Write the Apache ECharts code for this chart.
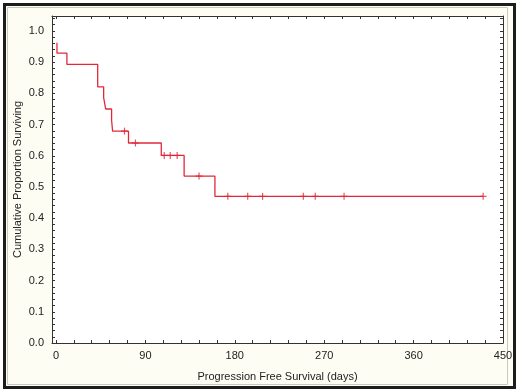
<!DOCTYPE html>
<html>
<head>
<meta charset="utf-8">
<script src="https://cdn.jsdelivr.net/npm/echarts@6/dist/echarts.min.js"></script>
<style>
  html, body { margin: 0; padding: 0; }
  #chart { width: 520px; height: 392px; }
</style>
</head>
<body>
<div id="chart"></div>
<script>
// Kaplan-Meier steps: time (days) and survival after that time
var stepDays = [1, 1, 11, 42, 48, 50, 56, 57, 73, 106, 129, 160, 430];
var stepSurv = [0.962, 0.929, 0.893, 0.821, 0.786, 0.750, 0.714, 0.679, 0.641, 0.601, 0.535, 0.470, 0.470];

// censored observations
var censorDays = [69, 80, 109, 115, 122, 144, 173, 193, 208, 249, 261, 290, 430];
var censorSurv = [0.679, 0.641, 0.601, 0.601, 0.601, 0.535, 0.470, 0.470, 0.470, 0.470, 0.470, 0.470, 0.470];

var xLabels = [0, 90, 180, 270, 360, 450];
var yLabels = [0, 0.1, 0.2, 0.3, 0.4, 0.5, 0.6, 0.7, 0.8, 0.9, 1.0];

var xTicks = [];
for (var i = 0; i <= 25; i++) xTicks.push(i * 18);
var yTicks = [];
for (var j = 0; j <= 52; j++) yTicks.push(+(j * 0.02).toFixed(2));

var red = '#e0283a';
var axisCol = '#333';
var font = 'Liberation Sans';

var stepData = stepDays.map(function (d, k) { return [d, stepSurv[k]]; });
var censorData = censorDays.map(function (d, k) { return [d, censorSurv[k]]; });

function baseX(pos, showLabel) {
    return {
        type: 'value',
        position: pos,
        min: -4,
        max: 450,
        axisLine: { show: true, onZero: false, lineStyle: { color: axisCol, width: 1 } },
        axisTick: { show: true, inside: true, length: 3, customValues: xTicks, lineStyle: { color: axisCol } },
        axisLabel: {
            show: showLabel, customValues: xLabels, margin: 7,
            color: '#222', fontFamily: font, fontSize: 11
        },
        splitLine: { show: false }
    };
}

function baseY(pos, showLabel) {
    return {
        type: 'value',
        position: pos,
        min: 0,
        max: 1.048,
        axisLine: { show: true, onZero: false, lineStyle: { color: axisCol, width: 1 } },
        axisTick: { show: true, inside: true, length: 3, customValues: yTicks, lineStyle: { color: axisCol } },
        axisLabel: {
            show: showLabel, customValues: yLabels, margin: 8,
            color: '#222', fontFamily: font, fontSize: 11,
            formatter: function (v) { return v.toFixed(1); }
        },
        splitLine: { show: false }
    };
}

var chart = echarts.init(document.getElementById('chart'));

var xBottom = baseX('bottom', true);
xBottom.name = 'Progression Free Survival (days)';
xBottom.nameLocation = 'middle';
xBottom.nameGap = 28;
xBottom.nameTextStyle = { color: '#222', fontFamily: font, fontSize: 11 };

var yLeft = baseY('left', true);
yLeft.name = 'Cumulative Proportion Surviving';
yLeft.nameLocation = 'middle';
yLeft.nameGap = 29;
yLeft.nameMoveOverlap = false;
yLeft.nameTextStyle = { color: '#222', fontFamily: font, fontSize: 11 };

var option = {
    backgroundColor: '#fdfdf4',
    animation: false,
    grid: {
        left: 52, top: 16, width: 451, height: 327,
        outerBoundsMode: 'none',
        show: true, backgroundColor: '#ffffff', borderWidth: 0
    },
    xAxis: [xBottom, baseX('top', false)],
    yAxis: [yLeft, baseY('right', false)],
    graphic: [
        { type: 'rect', shape: { x: 1.5, y: 1.5, width: 517, height: 389 },
          style: { fill: 'none', stroke: '#ffffff', lineWidth: 3 } },
        { type: 'rect', shape: { x: 4.5, y: 4.5, width: 510, height: 383 },
          style: { fill: 'none', stroke: '#1c1c1c', lineWidth: 3 } },
        { type: 'rect', shape: { x: 7.5, y: 7.5, width: 500, height: 377 },
          style: { fill: 'none', stroke: '#c8c8c0', lineWidth: 1 } }
    ],
    series: [
        {
            type: 'line',
            step: 'end',
            data: stepData,
            showSymbol: false,
            lineStyle: { color: red, width: 1.3 },
            z: 3
        },
        {
            type: 'scatter',
            data: censorData,
            symbol: 'rect',
            symbolSize: [1.2, 7],
            itemStyle: { color: red },
            z: 4
        },
        {
            type: 'scatter',
            data: censorData,
            symbol: 'rect',
            symbolSize: [7, 1.2],
            itemStyle: { color: red },
            z: 4
        }
    ]
};

chart.setOption(option);
window.addEventListener('resize', function () {
    chart.resize();
});
</script>
</body>
</html>
